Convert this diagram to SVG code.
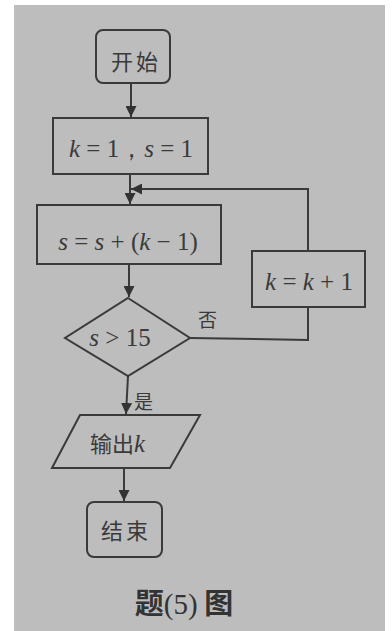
<svg xmlns="http://www.w3.org/2000/svg" width="392" height="631" viewBox="0 0 392 631">
<defs>
<marker id="ah" viewBox="0 0 10 10" refX="10" refY="5" markerWidth="11" markerHeight="11" markerUnits="userSpaceOnUse" orient="auto">
<path d="M0,0 L10,5 L0,10 z" fill="#333"/>
</marker>
</defs>
<style>
.shape{fill:none;stroke:#3a3a3a;stroke-width:2}
.line{fill:none;stroke:#3a3a3a;stroke-width:2}
.cn{font-family:"Noto Sans CJK SC","Liberation Serif",serif;fill:#3a3a3a;font-size:22px;letter-spacing:3px}
.m{font-family:"Liberation Serif",serif;fill:#3a3a3a;font-size:25px;letter-spacing:0}
.i{font-style:italic}
</style>
<rect x="0" y="0" width="392" height="631" fill="#ffffff"/>
<rect x="14" y="5" width="371" height="626" fill="#bdbdbd"/>
<g id="start">
<rect class="shape" x="96" y="30" width="74" height="53" rx="7"/>
<text class="cn" x="136" y="70" text-anchor="middle">开始</text>
</g>
<g id="init">
<rect class="shape" x="53" y="118" width="155" height="56"/>
<text class="m" x="131" y="157" text-anchor="middle" xml:space="preserve"><tspan class="i">k</tspan> = 1，<tspan class="i">s</tspan> = 1</text>
</g>
<g id="update-s">
<rect class="shape" x="37" y="205" width="184" height="59"/>
<text class="m" x="128" y="250" text-anchor="middle" xml:space="preserve"><tspan class="i">s</tspan> = <tspan class="i">s</tspan> + (<tspan class="i">k</tspan> − 1)</text>
</g>
<g id="cond">
<polygon class="shape" points="128,298 190,338 128,376 65,338"/>
<text class="m" x="120" y="346" text-anchor="middle" xml:space="preserve"><tspan class="i">s</tspan> &gt; 15</text>
</g>
<g id="inc-k">
<rect class="shape" x="252" y="251" width="113" height="56"/>
<text class="m" x="309" y="290" text-anchor="middle" xml:space="preserve"><tspan class="i">k</tspan> = <tspan class="i">k</tspan> + 1</text>
</g>
<g id="output">
<polygon class="shape" points="80,415 200,415 170,468 52,468"/>
<text class="cn" x="90" y="452" style="letter-spacing:0">输出<tspan class="m i">k</tspan></text>
</g>
<g id="end">
<rect class="shape" x="87" y="502" width="75" height="55" rx="7"/>
<text class="cn" x="126" y="539" text-anchor="middle">结束</text>
</g>
<g id="connectors">
<line class="line" x1="131" y1="83" x2="131" y2="117" marker-end="url(#ah)"/>
<line class="line" x1="130" y1="174" x2="130" y2="204" marker-end="url(#ah)"/>
<polyline class="line" points="190,338 308,340 308,307"/>
<polyline class="line" points="308,251 308,189 131,189" marker-end="url(#ah)"/>
<line class="line" x1="129" y1="264" x2="129" y2="297" marker-end="url(#ah)"/>
<line class="line" x1="128" y1="376" x2="126" y2="414" marker-end="url(#ah)"/>
<line class="line" x1="124" y1="468" x2="124" y2="501" marker-end="url(#ah)"/>
<text class="cn" x="198" y="327" style="font-size:19px;letter-spacing:0">否</text>
<text class="cn" x="134" y="409" style="font-size:19px;letter-spacing:0">是</text>
</g>
<text x="184" y="614" text-anchor="middle" style="font-family:'Noto Sans CJK SC',serif;font-size:29px;fill:#333;font-weight:bold">题<tspan style="font-family:'Liberation Serif',serif;font-weight:normal">(5)</tspan> 图</text>
</svg>
